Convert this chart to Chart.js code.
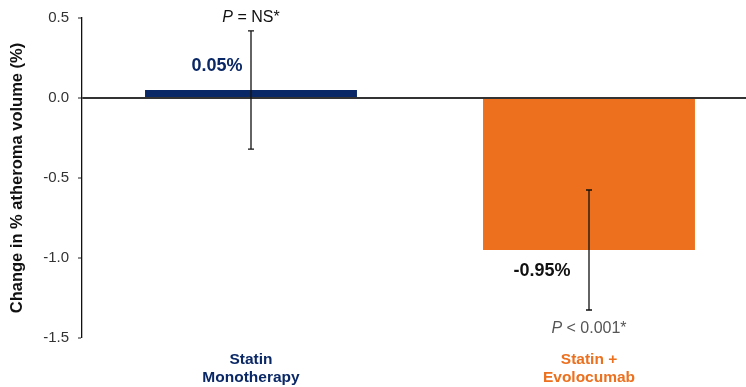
<!DOCTYPE html>
<html>
<head>
<meta charset="utf-8">
<script src="https://cdn.jsdelivr.net/npm/chart.js@4.4.1/dist/chart.umd.min.js"></script>
<style>
  html, body { margin: 0; padding: 0; background: #fff; overflow: hidden; }
  #wrap { width: 758px; height: 387px; }
</style>
</head>
<body>
<div id="wrap"><canvas id="atheromaChart"></canvas></div>
<script>
// Change in percent atheroma volume by treatment arm
const groups = [["Statin", "Monotherapy"], ["Statin +", "Evolocumab"]];
const meanChange = [0.05, -0.95];
const errorHalf = [0.37, 0.375];
const valueLabels = ["0.05%", "-0.95%"];
const pValues = ["= NS*", "< 0.001*"];
const yTicks = [0.5, 0.0, -0.5, -1.0, -1.5];

const navy = "#0b2866";
const orange = "#ec701e";
const FONT = "'Liberation Sans', Arial, sans-serif";

// error bars, value labels and p-values drawn through the scales
const annotations = {
    id: "annotations",
    afterDatasetsDraw(chart) {
        const ctx = chart.ctx;
        const x = chart.scales.x;
        const y = chart.scales.y;
        ctx.save();
        meanChange.forEach((v, i) => {
            const cx = x.getPixelForValue(i);
            const top = y.getPixelForValue(v + errorHalf[i]);
            const bot = y.getPixelForValue(v - errorHalf[i]);
            ctx.strokeStyle = "#111";
            ctx.lineWidth = 1.3;
            ctx.beginPath();
            ctx.moveTo(cx, top); ctx.lineTo(cx, bot);
            ctx.moveTo(cx - 3, top); ctx.lineTo(cx + 3, top);
            ctx.moveTo(cx - 3, bot); ctx.lineTo(cx + 3, bot);
            ctx.stroke();

            // value label, left of the error bar
            ctx.font = "bold 18px " + FONT;
            ctx.fillStyle = i === 0 ? navy : "#111";
            ctx.textAlign = "center";
            ctx.textBaseline = "middle";
            const ly = i === 0 ? y.getPixelForValue(v) - 24 : y.getPixelForValue(v) + 21;
            ctx.fillText(valueLabels[i], cx - 34 - (i === 0 ? 0 : 13), ly);

            // p-value: italic P followed by the rest
            const py = i === 0 ? top - 13 : bot + 19;
            ctx.font = "italic 16px " + FONT;
            const pw = ctx.measureText("P ").width;
            ctx.font = "16px " + FONT;
            const rw = ctx.measureText(pValues[i]).width;
            const startX = cx - (pw + rw) / 2;
            ctx.fillStyle = i === 0 ? "#111" : "#555";
            ctx.textAlign = "left";
            ctx.font = "italic 16px " + FONT;
            ctx.fillText("P", startX, py);
            ctx.font = "16px " + FONT;
            ctx.fillText(pValues[i], startX + pw, py);
        });
        ctx.restore();
    }
};

new Chart(document.getElementById("atheromaChart"), {
    type: "bar",
    data: {
        labels: groups,
        datasets: [{
            data: meanChange,
            backgroundColor: [navy, orange],
            borderWidth: 0,
            categoryPercentage: 1,
            barPercentage: 0.627
        }]
    },
    options: {
        responsive: true,
        maintainAspectRatio: false,
        animation: false,
        layout: { padding: { top: 18, left: 0, right: 0, bottom: 0 } },
        plugins: { legend: { display: false }, tooltip: { enabled: false } },
        scales: {
            x: {
                grid: { display: false },
                border: { display: false },
                ticks: {
                    padding: 4,
                    color: (c) => c.index === 0 ? navy : orange,
                    font: { family: FONT, size: 15.5, weight: "bold", lineHeight: 1.2 }
                },
                afterFit(scale) { scale.height = 49; }
            },
            y: {
                min: -1.5,
                max: 0.5,
                afterBuildTicks(scale) { scale.ticks = yTicks.map(v => ({ value: v })); },
                grid: {
                    drawOnChartArea: true,
                    color: (c) => c.tick && c.tick.value === 0 ? "#333" : "rgba(0,0,0,0)",
                    lineWidth: (c) => c.tick && c.tick.value === 0 ? 2 : 0,
                    tickColor: "#222",
                    tickLength: 4,
                    tickWidth: 1
                },
                border: { display: true, color: "#111", width: 1.3 },
                ticks: {
                    padding: 9,
                    color: "#333",
                    font: { family: FONT, size: 15 },
                    callback: (v) => Number(v).toFixed(1)
                },
                title: {
                    display: true,
                    text: "Change in % atheroma volume (%)",
                    color: "#111",
                    font: { family: FONT, size: 16.5, weight: "bold" },
                    padding: { top: 8, bottom: 6 }
                },
                afterFit(scale) { scale.width = 82; }
            }
        }
    },
    plugins: [annotations]
});
</script>
</body>
</html>
